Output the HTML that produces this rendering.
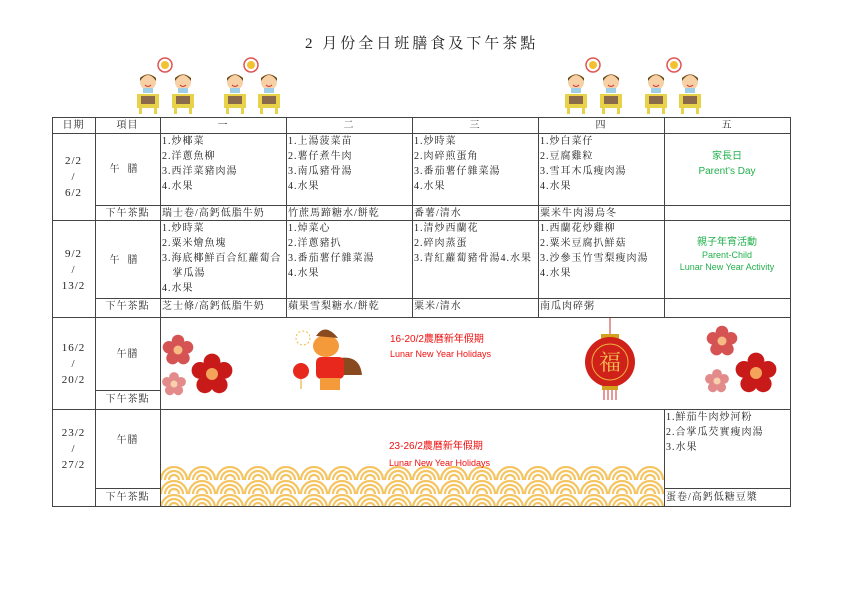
<!DOCTYPE html>
<html><head><meta charset="utf-8"><style>
body{margin:0;width:842px;height:595px;background:#fff;position:relative;overflow:hidden;font-family:"Liberation Serif","Noto Serif CJK SC",serif;color:#222}
.l{position:absolute;background:#444}
.t{position:absolute;font-size:10px;line-height:15px;white-space:nowrap;letter-spacing:1px}
.c{text-align:center}
.g{color:#22b14c;font-family:"Liberation Sans","Noto Sans CJK SC",sans-serif;letter-spacing:0}
.r{color:#f01010;font-family:"Liberation Sans","Noto Sans CJK SC",sans-serif;font-size:9px;letter-spacing:0}
</style></head><body>
<div class="t" style="left:305px;top:37px;font-size:15px;letter-spacing:3px">2 月份全日班膳食及下午茶點</div>

<svg width="842" height="595" style="position:absolute;left:0;top:0">
<defs>
<g id="kid">
<rect x="2" y="22" width="22" height="14" fill="#e8d24a"/><rect x="4" y="36" width="3" height="6" fill="#e8d24a"/><rect x="19" y="36" width="3" height="6" fill="#e8d24a"/>
<rect x="6" y="24" width="14" height="8" fill="#8a6a4a"/>
<circle cx="13" cy="10" r="8" fill="#f7d0a6"/><path d="M5 9 Q13 -3 21 9 L21 6 Q13 -1 5 6Z" fill="#6a4a1a"/>
<rect x="8" y="16" width="10" height="5" fill="#9fd0e8"/><path d="M10 13 Q13 16 16 13" stroke="#c33" fill="none"/>
</g>
<g id="clk"><circle r="7" fill="#fff" stroke="#d55" stroke-width="1.5"/><circle r="4" fill="#f2c230"/></g>
<g id="flw"><circle r="9" fill="#c91a1a"/><circle cx="0" cy="-10" r="7" fill="#c91a1a"/><circle cx="10" cy="-3" r="7" fill="#c91a1a"/><circle cx="6" cy="9" r="7" fill="#c91a1a"/><circle cx="-6" cy="9" r="7" fill="#c91a1a"/><circle cx="-10" cy="-3" r="7" fill="#c91a1a"/><circle r="5" fill="#f3a35a"/></g>
<pattern id="wv" x="160" y="466" width="28" height="14" patternUnits="userSpaceOnUse">
<g fill="none" stroke="#f5c463" stroke-width="2.2"><circle cx="0" cy="28" r="13"/><circle cx="0" cy="28" r="9"/><circle cx="0" cy="28" r="5"/><circle cx="28" cy="28" r="13"/><circle cx="28" cy="28" r="9"/><circle cx="28" cy="28" r="5"/><circle cx="14" cy="14" r="13"/><circle cx="14" cy="14" r="9"/><circle cx="14" cy="14" r="5"/></g>
</pattern>
</defs>
<use href="#kid" x="135" y="72"/><use href="#kid" x="170" y="72"/><use href="#kid" x="222" y="72"/><use href="#kid" x="256" y="72"/>
<use href="#kid" x="563" y="72"/><use href="#kid" x="598" y="72"/><use href="#kid" x="643" y="72"/><use href="#kid" x="677" y="72"/>
<use href="#clk" x="165" y="65"/><use href="#clk" x="251" y="65"/><use href="#clk" x="593" y="65"/><use href="#clk" x="674" y="65"/>
<rect x="161" y="466" width="503" height="40" fill="url(#wv)"/>
<g transform="translate(178,350) scale(0.9)"><use href="#flw" style="opacity:.75"/></g>
<use href="#flw" transform="translate(212,374) scale(1.2)"/>
<g transform="translate(174,384) scale(0.7)"><use href="#flw" style="opacity:.5"/></g>
<g transform="translate(722,341) scale(0.9)"><use href="#flw" style="opacity:.75"/></g>
<use href="#flw" transform="translate(756,373) scale(1.2)"/>
<g transform="translate(717,381) scale(0.7)"><use href="#flw" style="opacity:.5"/></g>
<circle cx="301" cy="371" r="8" fill="#e8281c"/><line x1="301" y1="379" x2="301" y2="389" stroke="#e8a020"/>
<circle cx="303" cy="338" r="7" fill="none" stroke="#f5b83a" stroke-dasharray="2 2"/>
<path d="M340 358 Q360 355 362 375 L340 375Z" fill="#8a4a20"/>
<rect x="316" y="357" width="28" height="22" rx="5" fill="#e8281c"/>
<rect x="320" y="378" width="20" height="12" fill="#f49a3a"/>
<ellipse cx="326" cy="346" rx="13" ry="11" fill="#f49a3a"/><path d="M316 336 Q325 322 338 338Z" fill="#8a4a20"/>
<line x1="610" y1="318" x2="610" y2="334" stroke="#c33"/>
<rect x="601" y="334" width="18" height="5" fill="#d4a020"/>
<circle cx="610" cy="362" r="25" fill="#d0201a"/><circle cx="610" cy="362" r="18" fill="none" stroke="#f0b040"/>
<text x="610" y="370" font-size="22" fill="#f5c050" text-anchor="middle" font-family="Noto Serif CJK SC">福</text>
<rect x="602" y="386" width="16" height="4" fill="#d4a020"/>
<g stroke="#c33"><line x1="604" y1="390" x2="604" y2="400"/><line x1="608" y1="390" x2="608" y2="400"/><line x1="612" y1="390" x2="612" y2="400"/><line x1="616" y1="390" x2="616" y2="400"/></g>
</svg>

<div class="l" style="left:52px;top:117px;width:739px;height:1px"></div>
<div class="l" style="left:52px;top:133px;width:739px;height:1px"></div>
<div class="l" style="left:95px;top:205px;width:696px;height:1px"></div>
<div class="l" style="left:52px;top:220px;width:739px;height:1px"></div>
<div class="l" style="left:95px;top:298px;width:696px;height:1px"></div>
<div class="l" style="left:52px;top:317px;width:739px;height:1px"></div>
<div class="l" style="left:95px;top:390px;width:65px;height:1px"></div>
<div class="l" style="left:52px;top:409px;width:739px;height:1px"></div>
<div class="l" style="left:95px;top:488px;width:65px;height:1px"></div>
<div class="l" style="left:664px;top:488px;width:127px;height:1px"></div>
<div class="l" style="left:52px;top:506px;width:739px;height:1px"></div>
<div class="l" style="left:52px;top:117px;width:1px;height:390px"></div>
<div class="l" style="left:95px;top:117px;width:1px;height:390px"></div>
<div class="l" style="left:160px;top:117px;width:1px;height:390px"></div>
<div class="l" style="left:286px;top:117px;width:1px;height:200px"></div>
<div class="l" style="left:412px;top:117px;width:1px;height:200px"></div>
<div class="l" style="left:538px;top:117px;width:1px;height:200px"></div>
<div class="l" style="left:664px;top:117px;width:1px;height:200px"></div>
<div class="l" style="left:664px;top:409px;width:1px;height:98px"></div>
<div class="l" style="left:790px;top:117px;width:1px;height:390px"></div>

<div class="t c" style="left:52px;top:118px;width:43px">日期</div>
<div class="t c" style="left:95px;top:118px;width:65px">項目</div>
<div class="t c" style="left:160px;top:118px;width:126px">一</div>
<div class="t c" style="left:286px;top:118px;width:126px">二</div>
<div class="t c" style="left:412px;top:118px;width:126px">三</div>
<div class="t c" style="left:538px;top:118px;width:126px">四</div>
<div class="t c" style="left:664px;top:118px;width:126px">五</div>

<div class="t c" style="left:52px;top:153px;width:43px;font-size:11px;line-height:16px">2/2<br>/<br>6/2</div>
<div class="t c" style="left:95px;top:162px;width:65px;letter-spacing:8px">午膳</div>
<div class="t" style="left:162px;top:134px">1.炒椰菜<br>2.洋蔥魚柳<br>3.西洋菜豬肉湯<br>4.水果</div>
<div class="t" style="left:288px;top:134px">1.上湯菠菜苗<br>2.薯仔煮牛肉<br>3.南瓜豬骨湯<br>4.水果</div>
<div class="t" style="left:414px;top:134px">1.炒時菜<br>2.肉碎煎蛋角<br>3.番茄薯仔雜菜湯<br>4.水果</div>
<div class="t" style="left:540px;top:134px">1.炒白菜仔<br>2.豆腐雞粒<br>3.雪耳木瓜瘦肉湯<br>4.水果</div>
<div class="t c g" style="left:664px;top:149px;width:126px">家長日<br>Parent’s Day</div>
<div class="t c" style="left:95px;top:206px;width:65px">下午茶點</div>
<div class="t" style="left:162px;top:206px">瑞士卷/高鈣低脂牛奶</div>
<div class="t" style="left:288px;top:206px">竹蔗馬蹄糖水/餅乾</div>
<div class="t" style="left:414px;top:206px">番薯/清水</div>
<div class="t" style="left:540px;top:206px">粟米牛肉湯烏冬</div>

<div class="t c" style="left:52px;top:246px;width:43px;font-size:11px;line-height:16px">9/2<br>/<br>13/2</div>
<div class="t c" style="left:95px;top:253px;width:65px;letter-spacing:8px">午膳</div>
<div class="t" style="left:162px;top:221px">1.炒時菜<br>2.粟米燴魚塊<br>3.海底椰鮮百合紅蘿蔔合<br>&nbsp;&nbsp;&nbsp;掌瓜湯<br>4.水果</div>
<div class="t" style="left:288px;top:221px">1.焯菜心<br>2.洋蔥豬扒<br>3.番茄薯仔雜菜湯<br>4.水果</div>
<div class="t" style="left:414px;top:221px">1.清炒西蘭花<br>2.碎肉蒸蛋<br>3.青紅蘿蔔豬骨湯4.水果</div>
<div class="t" style="left:540px;top:221px">1.西蘭花炒雞柳<br>2.粟米豆腐扒鮮菇<br>3.沙參玉竹雪梨瘦肉湯<br>4.水果</div>
<div class="t c g" style="left:664px;top:236px;width:126px;font-size:9px;line-height:12px"><span style="font-size:10px">親子年宵活動</span><br>Parent-Child<br>Lunar New Year Activity</div>
<div class="t c" style="left:95px;top:299px;width:65px">下午茶點</div>
<div class="t" style="left:162px;top:299px">芝士條/高鈣低脂牛奶</div>
<div class="t" style="left:288px;top:299px">蘋果雪梨糖水/餅乾</div>
<div class="t" style="left:414px;top:299px">粟米/清水</div>
<div class="t" style="left:540px;top:299px">南瓜肉碎粥</div>

<div class="t c" style="left:52px;top:340px;width:43px;font-size:11px;line-height:16px">16/2<br>/<br>20/2</div>
<div class="t c" style="left:95px;top:347px;width:65px">午膳</div>
<div class="t c" style="left:95px;top:392px;width:65px">下午茶點</div>
<div class="t r" style="left:390px;top:332px;line-height:14px"><span style="font-size:10px">16-20/2農曆新年假期</span><br>Lunar New Year Holidays</div>

<div class="t c" style="left:52px;top:425px;width:43px;font-size:11px;line-height:16px">23/2<br>/<br>27/2</div>
<div class="t c" style="left:95px;top:433px;width:65px">午膳</div>
<div class="t c" style="left:95px;top:490px;width:65px">下午茶點</div>
<div class="t r" style="left:389px;top:438px;line-height:16px"><span style="font-size:10px">23-26/2農曆新年假期</span><br>Lunar New Year Holidays</div>
<div class="t" style="left:666px;top:410px">1.鮮茄牛肉炒河粉<br>2.合掌瓜芡實瘦肉湯<br>3.水果</div>
<div class="t" style="left:666px;top:490px">蛋卷/高鈣低糖豆漿</div>
</body></html>
